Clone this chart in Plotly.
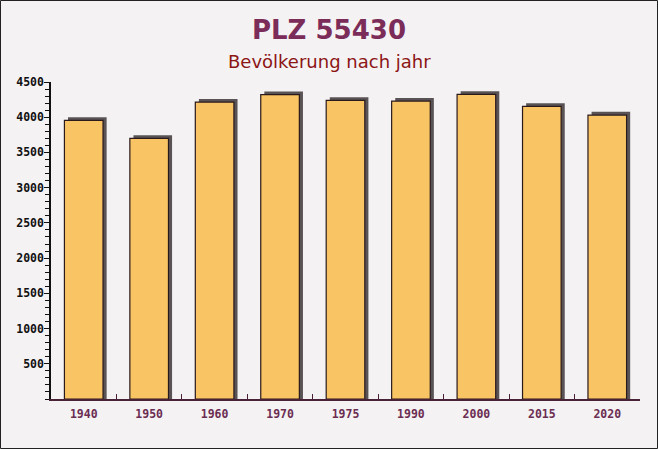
import plotly.graph_objects as go

years = ["1940", "1950", "1960", "1970", "1975", "1990", "2000", "2015", "2020"]
population = [3956, 3700, 4215, 4320, 4240, 4229, 4324, 4154, 4031]
y_ticks = [500, 1000, 1500, 2000, 2500, 3000, 3500, 4000, 4500]

BAR_W = 0.59
SHADOW_DX = 0.055
SHADOW_DY = 45

L, R, T, B = 51, 18, 82, 50
W, H = 658, 449
pw, ph = W - L - R, H - T - B
cx = (W / 2 - L) / pw

fig = go.Figure()
fig.add_trace(go.Bar(
    x=years, y=[v + SHADOW_DY for v in population],
    width=BAR_W, offset=-BAR_W / 2 + SHADOW_DX,
    marker=dict(color="#5a5355", line=dict(width=0)),
    hoverinfo="skip", showlegend=False,
))
fig.add_trace(go.Bar(
    x=years, y=population,
    width=BAR_W, offset=-BAR_W / 2,
    marker=dict(color="#f8c464", line=dict(color="#2a1a1c", width=1.2)),
    showlegend=False,
))

fig.update_layout(
    width=W, height=H,
    margin=dict(l=L, r=R, t=T, b=B),
    barmode="overlay",
    paper_bgcolor="#f4f2f3",
    plot_bgcolor="#f4f2f3",
    font=dict(family="DejaVu Sans"),
    title=dict(
        text="<b>PLZ 55430</b>",
        x=0.5, xanchor="center", xref="container",
        y=1 - 30 / H, yanchor="middle",
        font=dict(size=26, color="#7b2c58", family="DejaVu Sans"),
    ),
    annotations=[dict(
        text="Bevölkerung nach jahr", showarrow=False,
        xref="paper", yref="paper", x=cx, xanchor="center",
        y=1 + (T - 62) / ph, yanchor="middle",
        font=dict(size=18, color="#8c1515", family="DejaVu Sans"),
    )],
    shapes=[dict(
        type="rect", xref="paper", yref="paper",
        x0=-(L - 0.5) / pw, x1=1 + (R - 0.5) / pw,
        y0=-(B - 0.5) / ph, y1=1 + (T - 0.5) / ph,
        line=dict(color="#222", width=1), fillcolor="rgba(0,0,0,0)", layer="above",
    )],
    xaxis=dict(
        type="category", showgrid=False,
        showline=True, linecolor="#4a2238", linewidth=1.5,
        ticks="inside", tickson="boundaries", ticklen=5, tickcolor="#4a2238",
        tickfont=dict(family="DejaVu Sans Mono", size=11.5, color="#6b2d52", weight="bold"),
        ticklabelstandoff=3,
        range=[-0.5, len(years) - 0.5],
    ),
    yaxis=dict(
        range=[0, 4500], showgrid=False, zeroline=False,
        showline=True, linecolor="#111", linewidth=1.5,
        tickmode="array", tickvals=y_ticks,
        ticks="outside", ticklen=5, tickcolor="#111",
        tickfont=dict(family="DejaVu Sans Mono", size=11.5, color="#111", weight="bold"),
        ticklabelstandoff=-2,
        minor=dict(dtick=100, tick0=0, ticks="outside", ticklen=4, tickcolor="#111", showgrid=False),
    ),
)

fig.write_html("out.html")
